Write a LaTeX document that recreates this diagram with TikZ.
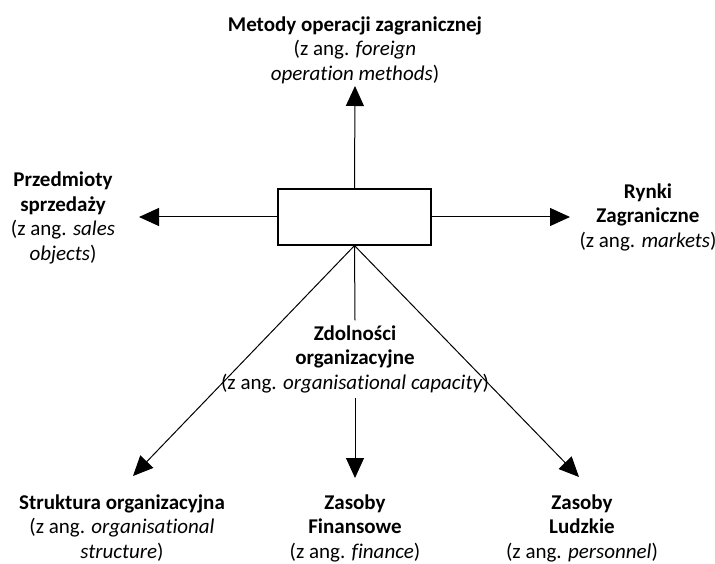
\documentclass[tikz,border=0pt]{standalone}
\usepackage{fontspec}
\setmainfont[Ligatures=NoCommon]{Carlito}
\usetikzlibrary{arrows.meta}
\begin{document}
\begin{tikzpicture}[x=1pt,y=-1pt,
  lbl/.style={align=center, font=\fontsize{21}{24.5}\selectfont, inner sep=0pt},
  link/.style={line width=1pt},
  arr/.style={link, -{Triangle[length=20pt,width=18pt]}},
  core/.style={draw, line width=1.2pt, minimum width=153pt, minimum height=56pt, inner sep=0pt}]
\useasboundingbox (0,0) rectangle (715,564);

% central box
\node[core] (core) at (354.5,217) {};

% labels around the box
\node[lbl] (methods) at (355,50) {\textbf{Metody operacji zagranicznej}\\(z ang. \textit{foreign}\\\textit{operation methods})};
\node[lbl] (objects) at (63,218) {\textbf{Przedmioty}\\\textbf{sprzedaży}\\(z ang. \textit{sales}\\\textit{objects})};
\node[lbl] (markets) at (648,217) {\textbf{Rynki}\\\textbf{Zagraniczne}\\(z ang. \textit{markets})};
\node[lbl, outer sep=5pt] (capacity) at (355,359) {\textbf{Zdolności}\\\textbf{organizacyjne}\\(z ang. \textit{organisational capacity})};
\node[lbl] (structure) at (122,528) {\textbf{Struktura organizacyjna}\\(z ang. \textit{organisational}\\\textit{structure})};
\node[lbl] (finance) at (355,528) {\textbf{Zasoby}\\\textbf{Finansowe}\\(z ang. \textit{finance})};
\node[lbl] (personnel) at (582,528) {\textbf{Zasoby}\\\textbf{Ludzkie}\\(z ang. \textit{personnel})};

% arrow tips
\coordinate (tipM) at (355,86);
\coordinate (tipO) at (139,217);
\coordinate (tipR) at (570,217);
\coordinate (tipS) at (133,476);
\coordinate (tipF) at (355,478);
\coordinate (tipP) at (579,477);

% connectors
\draw[arr] (core.north) -- (tipM);
\draw[arr] (core.west) -- (tipO);
\draw[arr] (core.east) -- (tipR);
\draw[arr] (core.south) -- (tipS);
\draw[arr] (core.south) -- (tipP);
\draw[link] (core.south) -- (capacity.north);
\draw[arr] (capacity.south) -- (tipF);
\end{tikzpicture}
\end{document}
